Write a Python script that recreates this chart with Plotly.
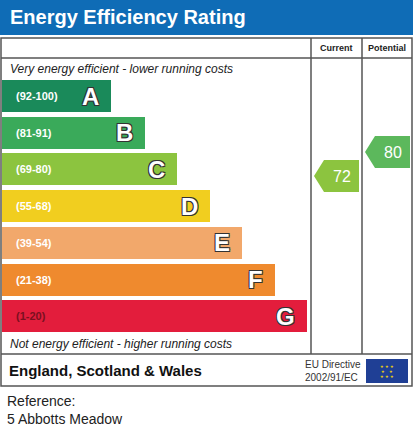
import plotly.graph_objects as go

bands = ["A", "B", "C", "D", "E", "F", "G"]
ranges = ["(92-100)", "(81-91)", "(69-80)", "(55-68)", "(39-54)", "(21-38)", "(1-20)"]
band_len = [109, 143, 175, 208, 240, 273, 305]
band_colors = ["#1a8a5a", "#3aaa5a", "#8cc43f", "#f1ce1f", "#f2a86b", "#ef8a2e", "#e31d3c"]
current = 72
potential = 80
arrow_colors = {"current": "#8cc43f", "potential": "#5cb85c"}

W, H = 413, 437
fig = go.Figure()

# rating bands
yc = [96 + i * 36.7 for i in range(len(bands))]
fig.add_trace(go.Bar(x=band_len, y=yc, base=2, orientation="h", width=32,
                     marker=dict(color=band_colors, line=dict(width=0)),
                     hoverinfo="skip", showlegend=False))
for i, b in enumerate(bands):
    fig.add_annotation(x=14, y=yc[i], text="<b>%s</b>" % ranges[i], showarrow=False, xanchor="left",
                       font=dict(size=11, color="#7a1020" if b == "G" else "white", family="Liberation Sans"))
    fig.add_annotation(x=band_len[i] - 8, y=yc[i], text="<b>%s</b>" % b, showarrow=False, xanchor="right",
                       font=dict(size=24, color="white", family="Liberation Sans",
                                 shadow="1px 1px 0 #333, -1px -1px 0 #333, 1px -1px 0 #333, -1px 1px 0 #333"))

# value arrows
def arrow(x0, x1, val, color):
    y = 392 - 3 * val
    xs = [x0, x0 + 10, x1, x1, x0 + 10, x0]
    ys = [y, y - 16, y - 16, y + 16, y + 16, y]
    fig.add_trace(go.Scatter(x=xs, y=ys, fill="toself", fillcolor=color, mode="lines",
                             line=dict(width=0, color=color), hoverinfo="skip", showlegend=False))
    fig.add_annotation(x=(x0 + 10 + x1) / 2, y=y, text=str(val), showarrow=False,
                       font=dict(size=16, color="white", family="Liberation Sans"))

arrow(314, 359, current, arrow_colors["current"])
arrow(365, 410, potential, arrow_colors["potential"])

shapes = [
    dict(type="rect", x0=0, x1=W, y0=0, y1=35, fillcolor="#0f6cb6", line=dict(width=0), layer="below"),
    dict(type="rect", x0=1, x1=412, y0=38, y1=386, line=dict(color="#555", width=1.5)),
    dict(type="line", x0=1, x1=412, y0=58, y1=58, line=dict(color="#555", width=1.5)),
    dict(type="line", x0=1, x1=412, y0=354, y1=354, line=dict(color="#555", width=1.5)),
    dict(type="line", x0=311, x1=311, y0=38, y1=354, line=dict(color="#555", width=1.5)),
    dict(type="line", x0=362, x1=362, y0=38, y1=354, line=dict(color="#555", width=1.5)),
    dict(type="rect", x0=366, x1=408, y0=359, y1=383, fillcolor="#1f3f95", line=dict(width=0)),
]

texts = [
    (8, 17, "<b>Energy Efficiency Rating</b>", 20, "white", "left"),
    (336, 48, "<b>Current</b>", 9, "#222", "center"),
    (387, 48, "<b>Potential</b>", 9, "#222", "center"),
    (8, 69, "<i>Very energy efficient - lower running costs</i>", 12, "#222", "left"),
    (8, 344, "<i>Not energy efficient - higher running costs</i>", 12, "#222", "left"),
    (7, 370, "<b>England, Scotland & Wales</b>", 15, "#111", "left"),
    (303, 364, "EU Directive", 10, "#333", "left"),
    (303, 377, "2002/91/EC", 10, "#333", "left"),
    (5, 401, "Reference:", 14, "#222", "left"),
    (5, 419, "5 Abbotts Meadow", 14, "#222", "left"),
    (387, 371, "★ ★ ★<br>★   ★<br>★ ★ ★", 4, "#ffdd00", "center"),
]
for x, y, t, s, c, a in texts:
    fig.add_annotation(x=x, y=y, text=t, showarrow=False, xanchor=a,
                       font=dict(size=s, color=c, family="Liberation Sans"))

fig.update_layout(
    width=W, height=H, margin=dict(l=0, r=0, t=0, b=0),
    paper_bgcolor="white", plot_bgcolor="white", shapes=shapes, bargap=0,
    xaxis=dict(range=[0, W], visible=False, fixedrange=True),
    yaxis=dict(range=[H, 0], visible=False, fixedrange=True),
)
fig.write_html("out.html", config={"displayModeBar": False},
               post_script="document.body.style.margin='0';document.body.style.overflow='hidden';")
